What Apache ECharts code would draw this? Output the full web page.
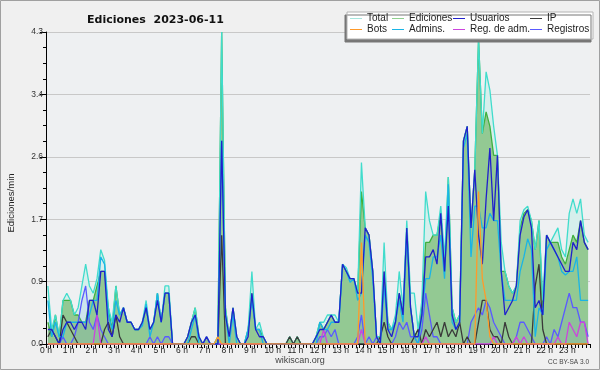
<!DOCTYPE html>
<html><head><meta charset="utf-8">
<script src="https://cdn.jsdelivr.net/npm/echarts@6/dist/echarts.min.js"></script>
<style>
html,body{margin:0;padding:0;background:#f0f0f0;}
#c{width:600px;height:370px;}
</style></head><body><div id="c"></div>
<script>
// 10-minute buckets, 144 per day (values in edits per minute)
const hourTicks = [0,1,2,3,4,5,6,7,8,9,10,11,12,13,14,15,16,17,18,19,20,21,22,23];
const yTicks = [0, 0.86, 1.72, 2.58, 3.44, 4.3];

const total = [
0.8,0.2,0.4,0.1,0.6,0.7,
0.6,0.4,0.5,0.8,1.1,0.8,
0.7,0.9,1.3,1.15,0.5,0.3,
0.8,0.4,0.5,0.3,0.3,0.2,
0.2,0.3,0.6,0.2,0.3,0.7,
0.3,0.8,0.8,0,0,0,
0,0.1,0.3,0.5,0.1,0,
0.1,0,0,0.1,4.3,0.5,
0.1,0.5,0.1,0,0,0.2,
1.0,0.2,0.3,0.1,0,0,
0,0,0,0,0.1,0,
0.1,0,0,0,0,0.1,
0.3,0.3,0.4,0.4,0.4,0.3,
1.1,1.05,0.9,0.9,0.7,2.5,
1.6,1.5,1.0,0.1,0.1,1.4,
0.3,0.2,0.4,1.0,0.5,1.7,
0.7,0.7,0.2,0.6,2.1,1.7,
1.5,1.5,1.9,1.2,2.3,0.5,
0.3,0.4,2.8,3.0,1.6,2.4,
4.2,2.9,3.75,3.5,3.0,2.6,
1.4,1.0,0.8,0.7,0.8,1.7,
1.85,1.9,1.7,1.3,1.7,0.6,
1.5,1.4,1.5,1.6,1.3,1.2,
1.8,2.0,1.8,2.0,1.5,1.4
];
const ediciones = [
0.3,0.1,0.4,0.1,0.6,0.6,
0.6,0.4,0.4,0.3,0.3,0.6,
0.6,0.8,1.0,1.0,0.5,0.2,
0.8,0.4,0.5,0.3,0.3,0.2,
0.2,0.3,0.5,0.2,0.3,0.7,
0.3,0.7,0.7,0,0,0,
0,0.1,0.3,0.5,0.1,0,
0.1,0,0,0.1,4.3,0.5,
0.1,0.5,0.1,0,0,0.2,
0.7,0.2,0.2,0.1,0,0,
0,0,0,0,0.1,0,
0.1,0,0,0,0,0.1,
0.3,0.2,0.3,0.4,0.3,0.3,
1.1,1.0,0.9,0.9,0.7,2.1,
1.6,1.5,1.0,0.1,0.1,1.0,
0.3,0.2,0.3,0.7,0.4,1.6,
0.5,0.1,0.2,0.5,1.4,1.4,
1.5,1.5,1.8,1.0,2.3,0.5,
0.3,0.4,2.8,3.0,1.6,2.4,
4.2,2.9,3.2,3.0,2.6,2.6,
1.0,1.0,0.8,0.7,0.8,1.6,
1.8,1.85,1.7,1.3,1.7,0.5,
1.5,1.4,1.4,1.4,1.2,1.1,
1.3,1.5,1.4,1.7,1.4,1.3
];
const usuarios = [
0.2,0.2,0.1,0,0.2,0.3,
0.3,0.2,0.3,0.3,0.2,0.6,
0.6,0.4,1.0,1.0,0.2,0.1,
0.4,0.3,0.5,0.3,0.3,0.2,
0.2,0.3,0.5,0.2,0.3,0.6,
0.3,0.7,0.7,0,0,0,
0,0.1,0.3,0.4,0.1,0,
0.1,0,0,0,2.8,0.4,
0.1,0.5,0.1,0,0,0.1,
0.7,0.2,0.1,0.1,0,0,
0,0,0,0,0,0,
0,0,0,0,0,0.1,
0.2,0.2,0.3,0.4,0.3,0.3,
1.1,1.0,0.9,0.9,0.7,0.7,
1.6,1.5,1.0,0.1,0,1.0,
0.2,0.1,0.3,0.7,0.4,1.6,
0.5,0.1,0.1,0.4,1.2,1.2,
1.3,1.1,1.8,1.0,1.9,0.4,
0.2,0.3,2.8,3.0,1.6,2.4,
1.5,1.1,2.0,2.7,1.7,2.6,
1.0,0.4,0.5,0.6,0.8,1.5,
1.75,1.85,1.6,0.5,0.6,0.4,
1.5,1.4,1.3,1.2,1.1,1.0,
1.0,1.4,1.3,1.7,1.4,1.3
];
const ip = [
0.1,0.2,0.1,0,0.4,0.3,
0.2,0.1,0,0,0,0,
0,0,0,0.2,0.3,0.1,
0.4,0.1,0,0,0,0,
0,0,0,0,0,0,
0,0,0,0,0,0,
0,0,0.1,0.1,0,0,
0,0,0,0,1.5,0,
0,0,0,0,0,0,
0,0,0,0,0,0,
0,0,0,0,0.1,0,
0.1,0,0,0,0,0,
0,0,0,0,0,0,
0,0,0,0,0,0,
0,0,0,0,0.1,0.3,
0.1,0,0,0,0,0,
0,0.1,0.2,0,0.2,0.1,
0.2,0.3,0.1,0.3,0.1,0.2,
0.1,0.3,0,0.1,0,0,
0.3,0.6,0.6,0.2,0.1,0.1,
0,0.3,0.1,0,0,0,
0,0,0,0.8,1.1,0.2,
0,0,0,0,0,0,
0,0,0,0,0,0
];
const bots = [
0,0,0,0,0,0, 0,0,0,0,0,0, 0,0,0,0,0,0, 0,0,0,0,0,0,
0,0,0,0,0,0, 0,0,0,0,0,0, 0,0,0,0,0,0, 0,0,0,0.1,0,0,
0,0,0,0,0,0, 0,0,0,0,0,0, 0,0,0,0,0,0, 0,0,0,0,0,0,
0,0,0,0,0,0, 0,0,0,0,0,1.4, 0,0,0,0,0,0, 0,0,0,0,0,0,
0,0,0,0,0,0, 0,0,0,0,0,0, 0,0,0,0,0,0, 2.1,0.9,0.6,0.1,0,0,
0,0,0,0,0,0, 0,0,0,0,0,0, 0,0,0,0,0,0, 0,0,0,0,0,0
];
const admins = [
0.6,0.1,0.3,0.1,0.1,0.3,
0.3,0.3,0.3,0.3,0.3,0.4,
0.6,0.6,1.2,1.1,0.4,0.2,
0.6,0.4,0.5,0.3,0.3,0.2,
0.2,0.25,0.55,0.1,0.3,0.7,
0.3,0.7,0.7,0,0,0,
0,0,0.2,0.4,0,0,
0,0,0,0,2.8,0.4,
0,0.4,0,0,0,0.2,
0.6,0.2,0.2,0,0,0,
0,0,0,0,0,0,
0,0,0,0,0,0,
0.3,0.2,0.2,0.3,0.3,0.3,
1.1,1.0,0.85,0.9,0.6,0.7,
1.5,1.4,0.9,0.1,0,0.8,
0.2,0.2,0.3,0.6,0.3,1.5,
0.5,0.1,0,0.4,0.9,0.9,
1.2,1.2,1.5,0.9,2.2,0.3,
0.2,0.3,2.7,2.9,1.2,1.9,
1.9,1.6,1.6,1.8,1.7,1.7,
1.0,0.6,0.6,0.6,0.6,1.0,
1.2,1.45,1.3,0.1,0.5,0.4,
1.3,1.4,1.3,1.2,1.0,0.95,
1.0,1.0,1.2,0.6,0.6,0.6
];
const regAdm = [
0,0,0,0,0,0, 0,0,0,0,0,0, 0,0.4,0,0,0,0, 0,0,0,0,0,0,
0,0,0,0,0,0, 0,0,0,0,0,0, 0,0,0,0,0,0, 0,0,0,0,0,0,
0,0,0,0,0,0, 0,0,0,0,0,0, 0,0,0,0,0,0, 0,0,0,0,0,0,
0,0.2,0,0,0,0, 0,0,0,0,0,0.2, 0,0,0,0,0,0, 0,0,0,0,0,0,
0,0,0,0,0.1,0, 0,0,0,0,0,0, 0,0,0,0,0,0, 0,0,0,0,0.1,0,
0,0,0,0,0.1,0, 0.1,0,0,0,0,0, 0,0,0,0.1,0,0, 0.3,0.2,0.1,0.3,0.3,0
];
const registros = [
0,0,0,0,0.1,0,
0,0.1,0.3,0.6,0.8,0.3,
0.2,0.4,0.2,0.1,0,0,
0,0,0,0,0,0,
0,0,0,0.1,0,0.1,
0,0.1,0.1,0,0,0,
0,0,0,0,0,0,
0.1,0,0,0,0,0,
0,0,0,0,0,0,
0,0,0,0,0,0,
0,0,0,0,0,0,
0,0,0,0,0,0,
0.1,0.1,0.2,0.1,0.2,0,
0,0,0,0,0.1,0.4,
0,0.1,0,0.1,0,0,
0,0,0.1,0.3,0.2,0.3,
0.1,0.1,0,0.2,0.7,0.4,
0.1,0.1,0,0,0,0,
0,0,0,0,0.3,0.4,
0.5,0.4,0.6,0.5,0.3,0.2,
0.1,0,0,0,0.1,0.3,
0.3,0.2,0.1,0,0,0,
0.1,0,0.2,0.1,0.3,0.5,
0.7,0.5,0.5,0.3,0.3,0.1
];

const FONT = 'Liberation Sans';
const chart = echarts.init(document.getElementById('c'));
function toPts(arr){ return arr.map((v,i)=>[(i+0.5)/6, v]); }
function mk(name, arr, color, extra){
  return Object.assign({
    name, type:'line', data:toPts(arr), symbol:'none', showSymbol:false,
    lineStyle:{color, width:1.3}, itemStyle:{color},
    emphasis:{disabled:true}, silent:true, z:2
  }, extra||{});
}
const legendCols = [['Total','Bots'],['Ediciones','Admins.'],['Usuarios','Reg. de adm.'],['IP','Registros']];
const legendLefts = [350, 392, 453, 530];
const legendIconColor = {'Total':'#a6e6de','Ediciones':'#8fd08f'};

chart.setOption({
  animation:false,
  backgroundColor:'#f0f0f0',
  textStyle:{fontFamily:FONT},
  title:{text:'Ediciones  2023-06-11', left:82, top:10,
    textStyle:{fontFamily:'DejaVu Sans', fontSize:11, fontWeight:'bold', color:'#111'}},
  grid:{left:46, right:10, top:32, bottom:26, show:true, backgroundColor:'#eef0f2', borderWidth:0},
  xAxis:{type:'value', min:0, max:24, interval:1,
    axisLine:{lineStyle:{color:'#000', width:1}},
    axisTick:{show:true, length:4, lineStyle:{color:'#000'}},
    minorTick:{show:true, splitNumber:6, length:4, lineStyle:{color:'#000'}},
    splitLine:{show:false},
    axisLabel:{formatter:v=> hourTicks.indexOf(v)>=0 ? v+' h' : '', fontSize:8.5, color:'#222', margin:2}},
  yAxis:{type:'value', min:yTicks[0], max:yTicks[yTicks.length-1], interval:yTicks[1],
    axisLine:{show:true, lineStyle:{color:'#000'}},
    axisTick:{show:true, length:6, lineStyle:{color:'#000'}},
    minorTick:{show:true, splitNumber:4, length:3, lineStyle:{color:'#000'}},
    splitLine:{show:true, lineStyle:{color:'#c8c8c8'}},
    axisLabel:{formatter:v=>v.toFixed(1), fontSize:8.5, color:'#333', margin:3}},
  legend: legendCols.map((d,k)=>({
    data:d.map(n=> legendIconColor[n] ? {name:n, itemStyle:{color:legendIconColor[n]}} : n),
    left:legendLefts[k], top:13, orient:'vertical', itemGap:0, itemWidth:12, itemHeight:1,
    icon:'rect', padding:0, selectedMode:false, z:5,
    textStyle:{fontFamily:FONT, fontSize:10, color:'#222', lineHeight:11}
  })),
  graphic:[
    {type:'rect', z:3, shape:{x:347, y:12, width:246, height:27},
      style:{fill:'#fff', stroke:'#b4b4b4', lineWidth:1, shadowColor:'#777', shadowOffsetX:-2, shadowOffsetY:3, shadowBlur:0}},
    {type:'text', z:5, x:11, y:203, rotation:Math.PI/2,
      style:{text:'Ediciones/min', fontFamily:FONT, fontSize:9.5, fill:'#222', align:'center', verticalAlign:'middle'}},
    {type:'text', z:5, x:300, y:361,
      style:{text:'wikiscan.org', fontFamily:FONT, fontSize:9, fill:'#444', align:'center', verticalAlign:'middle'}},
    {type:'text', z:5, x:589, y:362,
      style:{text:'CC BY-SA 3.0', fontFamily:FONT, fontSize:6.5, fill:'#444', align:'right', verticalAlign:'middle'}},
    {type:'rect', z:10, shape:{x:0.5, y:0.5, width:599, height:369},
      style:{fill:'none', stroke:'#a0a0a0', lineWidth:1}}
  ],
  series:[
    mk('Total', total, '#40dccc', {areaStyle:{color:'#d6efec', opacity:1}, lineStyle:{width:0}, z:1}),
    mk('Ediciones', ediciones, '#3fb03f', {areaStyle:{color:'#93c993', opacity:1}, z:1}),
    mk('Total', total, '#40dccc', {z:2}),
    mk('Registros', registros, '#5a5aff', {areaStyle:{color:'rgba(90,90,255,0.10)'}}),
    mk('IP', ip, '#3a3a3a'),
    mk('Reg. de adm.', regAdm, '#cc44dd'),
    mk('Admins.', admins, '#1ab4e6'),
    mk('Usuarios', usuarios, '#2020cc'),
    mk('Bots', bots, '#ff9a2a')
  ]
});
</script></body></html>
